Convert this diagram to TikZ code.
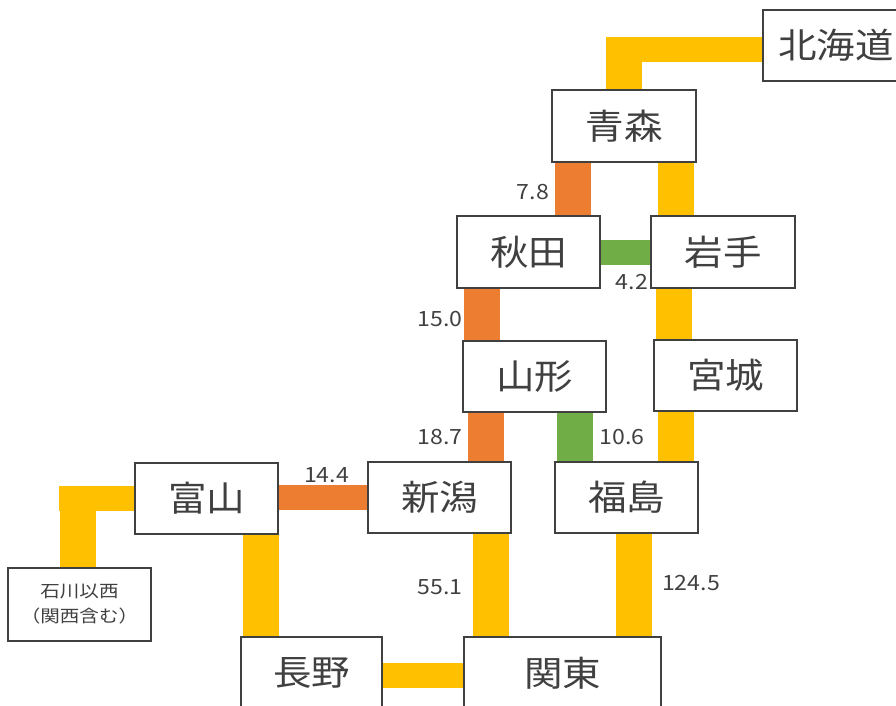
\documentclass[tikz,border=0pt]{standalone}
\usepackage{fontspec}
\usetikzlibrary{backgrounds}
\newfontfamily\jp[FakeStretch=1.1]{Noto Sans CJK JP}
\newfontfamily\jpsmall[FakeStretch=1.15]{Noto Sans CJK JP}
\definecolor{cyellow}{HTML}{FFC000}
\definecolor{corange}{HTML}{ED7D31}
\definecolor{cgreen}{HTML}{70AD47}
\definecolor{txt}{HTML}{404040}
\tikzset{
  pref/.style={draw=txt, line width=1.3pt, fill=white, text=txt, inner sep=0pt,
    font=\jp\fontsize{35}{40}\selectfont},
  vbar/.style={line width=36pt},
  hbar/.style={line width=25pt},
  yl/.style={draw=cyellow},
  ol/.style={draw=corange},
  gl/.style={draw=cgreen},
  num/.style={text=txt, inner sep=0pt, font=\jp\fontsize{21}{26}\selectfont},
}
\begin{document}
\begin{tikzpicture}[x=1pt,y=-1pt]
\useasboundingbox (0,0) rectangle (896,705);
\path
  node[pref, minimum width=146pt, minimum height=71pt] (hokkaido) at (836,45.5) {北海道}
  node[pref, minimum width=144pt, minimum height=72pt] (aomori) at (624,126) {青森}
  node[pref, minimum width=143pt, minimum height=72pt] (akita) at (528.5,252) {秋田}
  node[pref, minimum width=144pt, minimum height=72pt] (iwate) at (723,252) {岩手}
  node[pref, minimum width=143pt, minimum height=71pt] (yamagata) at (534.5,376.5) {山形}
  node[pref, minimum width=143pt, minimum height=71pt] (miyagi) at (725.5,375.5) {宮城}
  node[pref, minimum width=143pt, minimum height=71pt] (niigata) at (439.5,497.5) {新潟}
  node[pref, minimum width=143pt, minimum height=71pt] (fukushima) at (626.5,497.5) {福島}
  node[pref, minimum width=143pt, minimum height=71pt] (toyama) at (206.5,498.5) {富山}
  node[pref, minimum width=143pt, minimum height=73pt, align=center,
       font=\jpsmall\fontsize{17}{25}\selectfont] (ishikawa) at (79.5,604.5) {石川以西\\（関西含む）}
  node[pref, minimum width=141pt, minimum height=72pt] (nagano) at (311.5,673) {長野}
  node[pref, minimum width=197pt, minimum height=72pt] (kanto) at (562.5,673) {関東};
% labels
\node[num] (l78) at (533,192) {7.8};
\node[num] (l42) at (632,282) {4.2};
\node[num] (l150) at (440,319) {15.0};
\node[num] (l187) at (440,437) {18.7};
\node[num] (l106) at (622,437) {10.6};
\node[num] (l144) at (326.5,475) {14.4};
\node[num] (l551) at (440,587) {55.1};
\node[num] (l1245) at (691,583) {124.5};
% bars
\begin{scope}[on background layer]
  % Hokkaido - Aomori (L shape)
  \coordinate (hkcorner) at (606,49.5);
  \draw[yl,hbar] (hkcorner) -- (hokkaido.west |- hkcorner);
  \draw[yl,vbar] (624,37) -- (aomori.north);
  % Aomori - Akita
  \draw[ol,vbar] ([xshift=22pt]aomori.south west) -- ([xshift=22pt]aomori.south west |- akita.north);
  % Aomori - Iwate
  \draw[yl,vbar] ([xshift=-21pt]aomori.south east) -- ([xshift=-21pt]aomori.south east |- iwate.north);
  % Akita - Iwate
  \draw[gl,hbar] (akita.east) -- (iwate.west);
  % Akita - Yamagata
  \draw[ol,vbar] ([xshift=26pt]akita.south west) -- ([xshift=26pt]akita.south west |- yamagata.north);
  % Iwate - Miyagi
  \draw[yl,vbar] ([xshift=24pt]iwate.south west) -- ([xshift=24pt]iwate.south west |- miyagi.north);
  % Yamagata - Niigata
  \draw[ol,vbar] ([xshift=23.5pt]yamagata.south west) -- ([xshift=23.5pt]yamagata.south west |- niigata.north);
  % Yamagata - Fukushima
  \draw[gl,vbar] ([xshift=20.5pt]fukushima.north west |- yamagata.south) -- ([xshift=20.5pt]fukushima.north west);
  % Miyagi - Fukushima
  \draw[yl,vbar] ([xshift=22.5pt]miyagi.south west) -- ([xshift=22.5pt]miyagi.south west |- fukushima.north);
  % Toyama - Niigata
  \draw[ol,hbar] ([yshift=1pt]toyama.east) -- ([yshift=1pt]toyama.east -| niigata.west);
  % Niigata - Kanto
  \draw[yl,vbar] ([xshift=-21pt]niigata.south east) -- ([xshift=-21pt]niigata.south east |- kanto.north);
  % Fukushima - Kanto
  \draw[yl,vbar] ([xshift=7pt]fukushima.south) -- ([xshift=7pt]fukushima.south |- kanto.north);
  % Toyama - Nagano
  \draw[yl,vbar] ([xshift=-18pt]toyama.south east) -- ([xshift=-18pt]toyama.south east |- nagano.north);
  % Nagano - Kanto
  \draw[yl,hbar] ([yshift=-2pt]nagano.east) -- ([yshift=-2pt]nagano.east -| kanto.west);
  % Ishikawa - Toyama (L shape)
  \coordinate (iscorner) at (59,498);
  \draw[yl,hbar] (iscorner) -- (iscorner -| toyama.west);
  \draw[yl,vbar] (78,485.5) -- (78,485.5 |- ishikawa.north);
\end{scope}
\end{tikzpicture}
\end{document}
